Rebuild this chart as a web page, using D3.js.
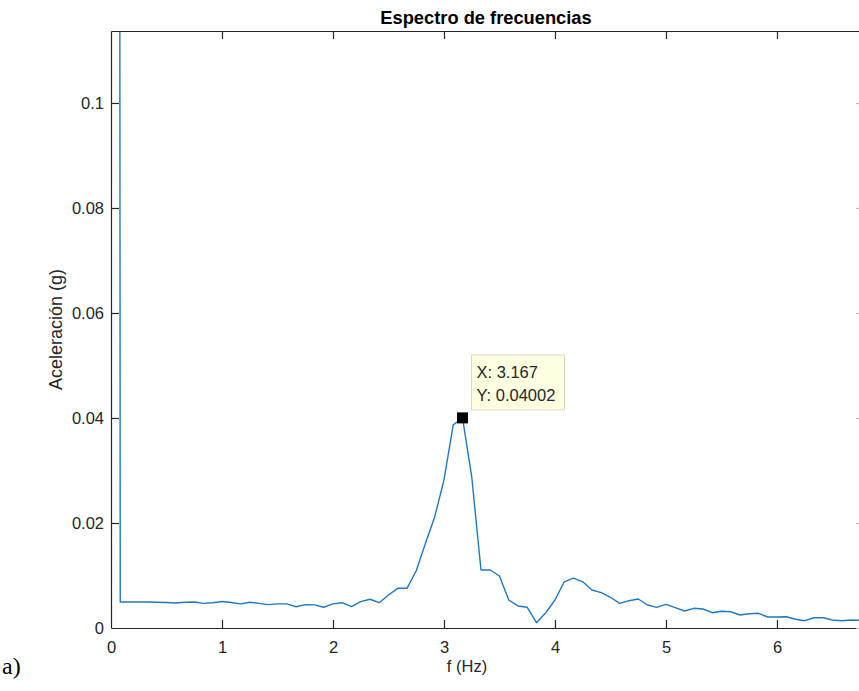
<!DOCTYPE html>
<html>
<head>
<meta charset="utf-8">
<script src="https://cdn.jsdelivr.net/npm/d3@7"></script>
<style>
  html, body { margin: 0; padding: 0; background: #fff; }
  svg { display: block; }
  text { font-family: "Liberation Sans", Arial, Helvetica, sans-serif; }
</style>
</head>
<body>
<svg id="chart" width="859" height="691"></svg>
<script>
// Frequency bins (Hz), resolution 1/12 Hz
const freqs = [
  0, 0.0833, 0.1667, 0.25, 0.3333, 0.4167, 0.5, 0.5833, 0.6667, 0.75,
  0.8333, 0.9167, 1, 1.0833, 1.1667, 1.25, 1.3333, 1.4167, 1.5, 1.5833,
  1.6667, 1.75, 1.8333, 1.9167, 2, 2.0833, 2.1667, 2.25, 2.3333, 2.4167,
  2.5, 2.5833, 2.6667, 2.75, 2.8333, 2.9167, 3, 3.0833, 3.1667, 3.25,
  3.3333, 3.4167, 3.5, 3.5833, 3.6667, 3.75, 3.8333, 3.9167, 4, 4.0833,
  4.1667, 4.25, 4.3333, 4.4167, 4.5, 4.5833, 4.6667, 4.75, 4.8333, 4.9167,
  5, 5.0833, 5.1667, 5.25, 5.3333, 5.4167, 5.5, 5.5833, 5.6667, 5.75,
  5.8333, 5.9167, 6, 6.0833, 6.1667, 6.25, 6.3333, 6.4167, 6.5, 6.5833,
  6.6667, 6.75
];

// Spectral amplitude (g); the DC bin lies far above the visible range
const accel = [
  2.5, 0.00495, 0.00495, 0.00495, 0.00495, 0.00490, 0.00485, 0.00475, 0.00490, 0.00495,
  0.00470, 0.00480, 0.00505, 0.00485, 0.00460, 0.00490, 0.00470, 0.00445, 0.00460, 0.00460,
  0.00405, 0.00445, 0.00440, 0.00395, 0.00460, 0.00482, 0.00406, 0.00501, 0.00547, 0.00482,
  0.00629, 0.00756, 0.00756, 0.01091, 0.01613, 0.0212, 0.0282, 0.0387, 0.04002, 0.0288,
  0.01105, 0.01105, 0.0099, 0.00533, 0.0042, 0.00394, 0.00101, 0.0029, 0.00533, 0.0088,
  0.0095, 0.0088, 0.00724, 0.00673, 0.00585, 0.0047, 0.0052, 0.00552, 0.00438, 0.00394,
  0.00451, 0.00387, 0.00324, 0.00375, 0.00362, 0.00291, 0.00318, 0.0031, 0.00248, 0.00272,
  0.0028, 0.0021, 0.0021, 0.00215, 0.00166, 0.00139, 0.00196, 0.00196, 0.00152, 0.00139,
  0.00152, 0.00147
];

const xTicks = [0, 1, 2, 3, 4, 5, 6];
const yTicks = [0, 0.02, 0.04, 0.06, 0.08, 0.1];
const xTickLabels = ["0", "1", "2", "3", "4", "5", "6"];
const yTickLabels = ["0", "0.02", "0.04", "0.06", "0.08", "0.1"];

const xDomain = [0, 6.784];
const yDomain = [0, 0.11371];

const titleText = "Espectro de frecuencias";
const xLabelText = "f (Hz)";
const yLabelText = "Aceleración (g)";
const panelLabel = "a)";
const tipIndex = 38; // marked peak

// Plot area
const plotL = 111, plotR = 864, plotT = 31, plotB = 628;
const axisColor = "#262626";
const lineColor = "#2079c0";
const tickLen = 8;

const svg = d3.select("#chart");

const x = d3.scaleLinear().domain(xDomain).range([plotL, plotR]);
const y = d3.scaleLinear().domain(yDomain).range([plotB, plotT]);

svg.append("defs").append("clipPath").attr("id", "plotClip")
  .append("rect")
  .attr("x", plotL).attr("y", plotT)
  .attr("width", plotR - plotL).attr("height", plotB - plotT);

// Spectrum line
const data = freqs.map((f, i) => ({ f, a: accel[i] }));
const line = d3.line().x(d => x(d.f)).y(d => y(d.a));

svg.append("path")
  .datum(data)
  .attr("clip-path", "url(#plotClip)")
  .attr("fill", "none")
  .attr("stroke", lineColor)
  .attr("stroke-width", 1.4)
  .attr("stroke-linejoin", "round")
  .attr("d", line);

// Axes (ticks pointing inward, box style)
const tickFont = "16.5px";

const xAxisBottom = d3.axisBottom(x).tickValues(xTicks)
  .tickFormat((d, i) => xTickLabels[i]).tickSizeInner(-tickLen).tickSizeOuter(0).tickPadding(13);
const gxb = svg.append("g").attr("transform", `translate(0,${plotB})`).call(xAxisBottom);

const xAxisTop = d3.axisTop(x).tickValues(xTicks)
  .tickFormat("").tickSizeInner(-tickLen).tickSizeOuter(0);
const gxt = svg.append("g").attr("transform", `translate(0,${plotT})`).call(xAxisTop);

const yAxisLeft = d3.axisLeft(y).tickValues(yTicks)
  .tickFormat((d, i) => yTickLabels[i]).tickSizeInner(-tickLen).tickSizeOuter(0).tickPadding(7);
const gyl = svg.append("g").attr("transform", `translate(${plotL},0)`).call(yAxisLeft);

const yAxisRight = d3.axisRight(y).tickValues(yTicks)
  .tickFormat("").tickSizeInner(-tickLen).tickSizeOuter(0);
const gyr = svg.append("g").attr("transform", `translate(${plotR},0)`).call(yAxisRight);

[gxb, gxt, gyl, gyr].forEach(g => {
  g.select(".domain").attr("stroke", axisColor).attr("stroke-width", 1.2);
  g.selectAll(".tick line").attr("stroke", axisColor).attr("stroke-width", 1.2);
  g.selectAll(".tick text")
    .attr("fill", axisColor)
    .style("font-size", tickFont)
    .style("font-family", '"Liberation Sans", Arial, sans-serif');
});
gyr.selectAll(".tick line").attr("stroke", "#bbb");
gxb.selectAll(".tick line").filter(d => d === 0).remove();
gxt.selectAll(".tick line").filter(d => d === 0).remove();
gyl.selectAll(".tick line").filter(d => d === 0).remove();

// Title and axis labels
svg.append("text")
  .attr("x", 486).attr("y", 24)
  .attr("text-anchor", "middle")
  .attr("fill", "#000")
  .style("font-size", "18.3px").style("font-weight", "bold")
  .text(titleText);

svg.append("text")
  .attr("x", 467).attr("y", 672)
  .attr("text-anchor", "middle")
  .attr("fill", axisColor)
  .style("font-size", "16.5px")
  .text(xLabelText);

svg.append("text")
  .attr("transform", `translate(62,${(plotT + plotB) / 2}) rotate(-90)`)
  .attr("text-anchor", "middle")
  .attr("fill", axisColor)
  .style("font-size", "18px")
  .text(yLabelText);

// Panel label
svg.append("text")
  .attr("x", 2).attr("y", 674)
  .attr("fill", "#000")
  .style("font-family", '"Liberation Serif", "Times New Roman", serif')
  .style("font-size", "24px")
  .text(panelLabel);

// Data tip on the peak
const tipF = freqs[tipIndex], tipA = accel[tipIndex];
const px = x(tipF), py = y(tipA);
const mSize = 11;
svg.append("rect")
  .attr("x", px - mSize / 2).attr("y", py - mSize / 2)
  .attr("width", mSize).attr("height", mSize)
  .attr("fill", "#000");

const fmt = d3.format(".4~r");
const boxX = px + 9, boxY = py - 63, boxW = 93, boxH = 55;
svg.append("rect")
  .attr("x", boxX).attr("y", boxY)
  .attr("width", boxW).attr("height", boxH)
  .attr("fill", "#ffffe1")
  .attr("stroke", "#d8d8c8")
  .attr("stroke-width", 1);

svg.append("text")
  .attr("x", boxX + 5).attr("y", boxY + 23)
  .attr("fill", "#262626")
  .style("font-size", "16.5px")
  .text(`X: ${fmt(tipF)}`);
svg.append("text")
  .attr("x", boxX + 5).attr("y", boxY + 46)
  .attr("fill", "#262626")
  .style("font-size", "16.5px")
  .text(`Y: ${fmt(tipA)}`);
</script>
</body>
</html>
